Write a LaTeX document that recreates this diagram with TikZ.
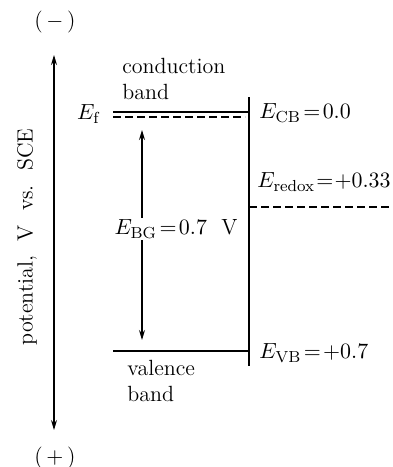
\documentclass[tikz,border=0pt]{standalone}
\usetikzlibrary{arrows.meta}
\newcommand{\eqq}{\mkern2mu{=}\mkern2mu}
\begin{document}
\begin{tikzpicture}[x=0.5pt,y=-0.5pt,
  lbl/.style={inner sep=0pt,font=\fontsize{11}{13}\selectfont},
  band/.style={line width=0.9pt},
  fermi/.style={line width=0.8pt,dash pattern=on 4pt off 2pt},
  axisarrow/.style={line width=0.6pt,{Stealth[length=5pt,width=3pt]}-{Stealth[length=5pt,width=3pt]}}]
\useasboundingbox (0,0) rectangle (392,467);
% coordinates
\coordinate (axT) at (54,55);
\coordinate (axB) at (54,430);
\coordinate (cbL) at (113,112);
\coordinate (cbR) at (249,112);
\coordinate (efL) at (113,117);
\coordinate (efR) at (245,117);
\coordinate (vbL) at (113,351);
\coordinate (vbR) at (249,351);
\coordinate (ifT) at (249,97);
\coordinate (ifB) at (249,366);
\coordinate (rdL) at (249,207);
\coordinate (rdR) at (392,207);
\coordinate (gT) at (142,130);
\coordinate (gB) at (142,340);
% axis
\draw[axisarrow] (axT) -- (axB);
\node[lbl] (minus) at (55,22) {(\,$-$\,)};
\node[lbl] (plus) at (55,458) {(\,$+$\,)};
\node[lbl,rotate=90] (axlabel) at (27,237) {potential,~~V~~vs.~~SCE};
% bands
\draw[band] (cbL) -- (cbR);
\draw[fermi] (efL) -- (efR);
\draw[band] (vbL) -- (vbR);
\draw[line width=0.7pt] (ifT) -- (ifB);
\draw[fermi] (rdL) -- (rdR);
% gap arrow
\draw[axisarrow] (gT) -- (gB);
\node[lbl,fill=white,inner sep=1pt] (gap) at (176,229) {$E_{\mathrm{BG}}\eqq0.7$~~V};
% labels
\node[lbl,align=left,anchor=north west] (cbt) at (122,58) {conduction\\band};
\node[lbl,align=left,anchor=north west] (vbt) at (127,360) {valence\\band};
\node[lbl] (ef) at (89,114) {$E_{\mathrm{f}}$};
\node[lbl,anchor=west] (ecb) at (259,113) {$E_{\mathrm{CB}}\eqq0.0$};
\node[lbl,anchor=west] (erd) at (257,182) {$E_{\mathrm{redox}}\mkern1mu{=}\mkern1mu{+}0.33$};
\node[lbl,anchor=west] (evb) at (259,353) {$E_{\mathrm{VB}}\eqq{+}0.7$};
\end{tikzpicture}
\end{document}
